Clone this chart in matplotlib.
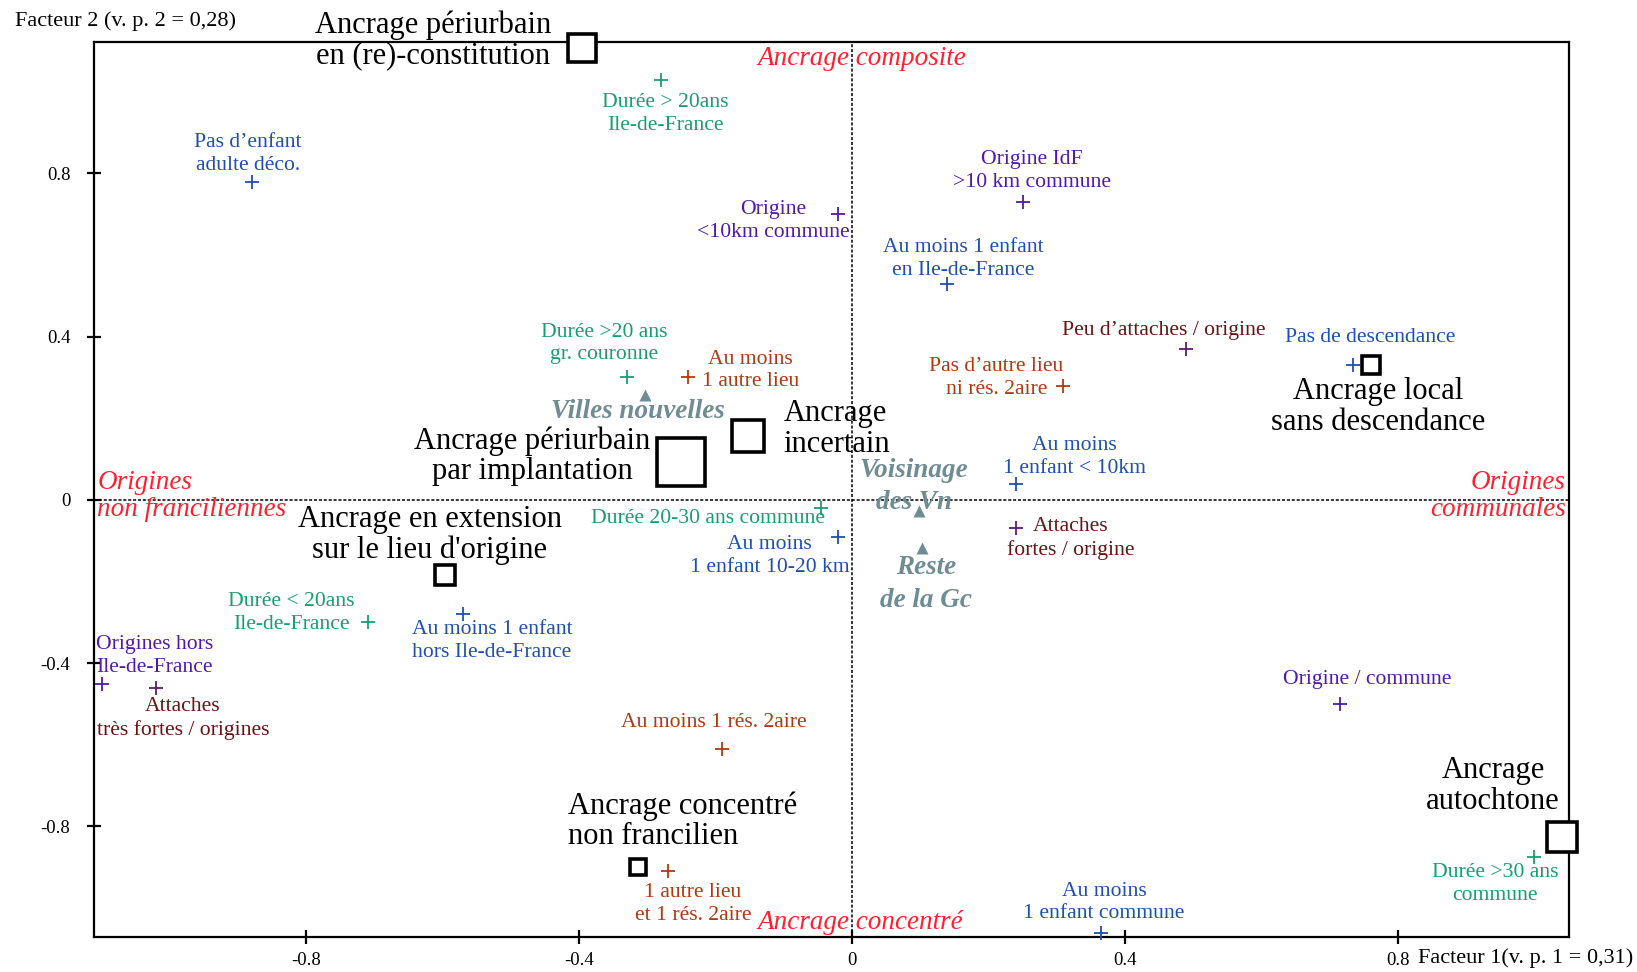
import matplotlib
matplotlib.use("Agg")
import matplotlib.pyplot as plt

plt.rcParams['font.family'] = ['Liberation Serif', 'DejaVu Serif']
plt.rcParams['axes.unicode_minus'] = False

# --- Modalités : coordonnées sur les facteurs 1 et 2 ---
mod_labels = [
    "Durée > 20ans\nIle-de-France",
    "Pas d’enfant\nadulte déco.",
    "Origine\n<10km commune",
    "Origine IdF\n>10 km commune",
    "Au moins 1 enfant\nen Ile-de-France",
    "Peu d’attaches / origine",
    "Pas de descendance",
    "Pas d’autre lieu\nni rés. 2aire",
    "Au moins\n1 autre lieu",
    "Durée >20 ans\ngr. couronne",
    "Au moins\n1 enfant < 10km",
    "Durée 20-30 ans commune",
    "Au moins\n1 enfant 10-20 km",
    "Attaches\nfortes / origine",
    "Durée < 20ans\nIle-de-France",
    "Au moins 1 enfant\nhors Ile-de-France",
    "Origines hors\nIle-de-France",
    "Attaches\ntrès fortes / origines",
    "Au moins 1 rés. 2aire",
    "1 autre lieu\net 1 rés. 2aire",
    "Origine / commune",
    "Au moins\n1 enfant commune",
    "Durée >30 ans\ncommune",
]
mod_f1 = [-0.28, -0.88, -0.02, 0.25, 0.14, 0.49, 0.735, 0.31, -0.24, -0.33,
          0.24, -0.045, -0.02, 0.24, -0.71, -0.57, -1.10, -1.02, -0.19, -0.27,
          0.715, 0.365, 1.00]
mod_f2 = [1.03, 0.78, 0.70, 0.73, 0.53, 0.37, 0.33, 0.28, 0.30, 0.30,
          0.04, -0.02, -0.09, -0.07, -0.30, -0.28, -0.45, -0.46, -0.61, -0.91,
          -0.50, -1.06, -0.875]
mod_group = ["duree", "enfant", "origine", "origine", "enfant", "attaches",
             "enfant", "lieu", "lieu", "duree", "enfant", "duree", "enfant",
             "attaches", "duree", "enfant", "origine", "attaches", "lieu",
             "lieu", "origine", "enfant", "duree"]

# --- Zones de résidence (illustratives) ---
zone_labels = ["Villes nouvelles", "Voisinage\ndes Vn", "Reste\nde la Gc"]
zone_f1 = [-0.303, 0.098, 0.103]
zone_f2 = [0.256, -0.026, -0.118]

# --- Classes d'ancrage ---
class_labels = [
    "Ancrage périurbain\nen (re)-constitution",
    "Ancrage périurbain\npar implantation",
    "Ancrage\nincertain",
    "Ancrage en extension\nsur le lieu d'origine",
    "Ancrage local\nsans descendance",
    "Ancrage concentré\nnon francilien",
    "Ancrage\nautochtone",
]
class_f1 = [-0.395, -0.250, -0.152, -0.597, 0.761, -0.314, 1.041]
class_f2 = [1.107, 0.092, 0.156, -0.184, 0.330, -0.900, -0.826]

# --- Pôles des axes ---
pole_labels = ["Ancrage composite", "Ancrage concentré",
               "Origines\nnon franciliennes", "Origines\ncommunales"]

# ---------------- styles / mise en page ----------------
marker_color = {"duree": "#1a9e6e", "enfant": "#1f4fb3", "origine": "#5219ad",
                "attaches": "#5e1a6e", "lieu": "#b3380e"}
text_color = {"duree": "#1a9e6e", "enfant": "#1f4fb3", "origine": "#5219ad",
              "attaches": "#6b1212", "lieu": "#b3380e"}

# décalage des étiquettes (pixels) par rapport au point
mod_offsets = [(4, -34), (-4, 28), (-65, -7), (9, 31), (16, 25), (-23, 18),
               (17, 28), (-67, 8), (62, 7), (-23, 34), (59, 27), (-113, -10),
               (-69, -19), (55, -10), (-76, 9), (29, -27), (53, 28), (27, -31),
               (-9, 26), (25, -33), (27, 24), (3, 30), (-39, -27)]
zone_offsets = [(-7, -16), (-5, 24), (4, -36)]
class_sizes_px = [32, 51, 35, 23, 21, 19, 34]
class_offsets = [(-149, 8), (-149, 6), (35, 7), (-15, 40), (7, -42), (-70, 46),
                 (-69, 51)]
class_ha = ["center", "center", "left", "center", "center", "left", "center"]
pole_pos = [(0.014, 1.082, "center"), (0.012, -1.036, "center"),
            (-1.106, 0.01, "left"), (1.046, 0.01, "right")]

W, H = 1637, 972
fig = plt.figure(figsize=(W / 100, H / 100), dpi=100)
ax = fig.add_axes([94 / W, 1 - 937 / H, (1569 - 94) / W, (937 - 42) / H])
ax.set_xlim(-1.111, 1.051)
ax.set_ylim(-1.071, 1.122)

for s in ax.spines.values():
    s.set_linewidth(1.6)
    s.set_color("black")

ax.set_xticks([-0.8, -0.4, 0, 0.4, 0.8])
ax.set_xticklabels(["-0.8", "-0.4", "0", "0.4", "0.8"])
ax.set_yticks([-0.8, -0.4, 0, 0.4, 0.8])
ax.set_yticklabels(["-0.8", "-0.4", "0", "0.4", "0.8"])
ax.tick_params(axis="both", direction="inout", length=10, width=1.6,
               labelsize=13.5)
ax.tick_params(axis="x", pad=6)
ax.tick_params(axis="y", pad=12)

# axes pointillés
dot = (0, (2, 1.2))
ax.axhline(0, color="black", lw=1.1, ls=dot, zorder=1)
ax.axvline(0, color="black", lw=1.1, ls=dot, zorder=1)

# modalités
for lab, x, y, g, off in zip(mod_labels, mod_f1, mod_f2, mod_group, mod_offsets):
    ax.plot(x, y, marker="+", ms=10, mew=1.3, color=marker_color[g],
            ls="none", zorder=3, clip_on=False)
    ax.annotate(lab, (x, y), xytext=off, textcoords="offset pixels",
                ha="center", va="center", multialignment="center",
                fontsize=15.6, color=text_color[g], linespacing=1.28, zorder=4)

# zones
zone_col = "#6f8c95"
for lab, x, y, off in zip(zone_labels, zone_f1, zone_f2, zone_offsets):
    ax.plot(x, y, marker="^", ms=9, color=zone_col, mec="none", ls="none",
            zorder=3)
    ax.annotate(lab, (x, y), xytext=off, textcoords="offset pixels",
                ha="center", va="center", multialignment="center",
                fontsize=19.5, color=zone_col, style="italic", weight="bold",
                linespacing=1.38, zorder=4)

# classes
for lab, x, y, sz, off, ha in zip(class_labels, class_f1, class_f2,
                                  class_sizes_px, class_offsets, class_ha):
    ax.plot(x, y, marker="s", ms=(sz - 3.5) * 0.72, mew=2.6, mec="black",
            mfc="white", ls="none", zorder=6, clip_on=False)
    ax.annotate(lab, (x, y), xytext=off, textcoords="offset pixels",
                ha=ha, va="center", multialignment=ha,
                fontsize=22, color="black", linespacing=1.07, zorder=7,
                annotation_clip=False)

# pôles
for lab, (x, y, ha) in zip(pole_labels, pole_pos):
    ax.text(x, y, lab, ha=ha, va="center", multialignment=ha, fontsize=19.5,
            color="#ff1f2f", style="italic", linespacing=1.1, zorder=5)

fig.text(15 / W, 1 - 21 / H, "Facteur 2 (v. p. 2 = 0,28)", fontsize=16,
         ha="left", va="center")
fig.text(1418 / W, 1 - 958 / H, "Facteur 1(v. p. 1 = 0,31)", fontsize=16,
         ha="left", va="center")

fig.savefig("out.png", dpi=100)
